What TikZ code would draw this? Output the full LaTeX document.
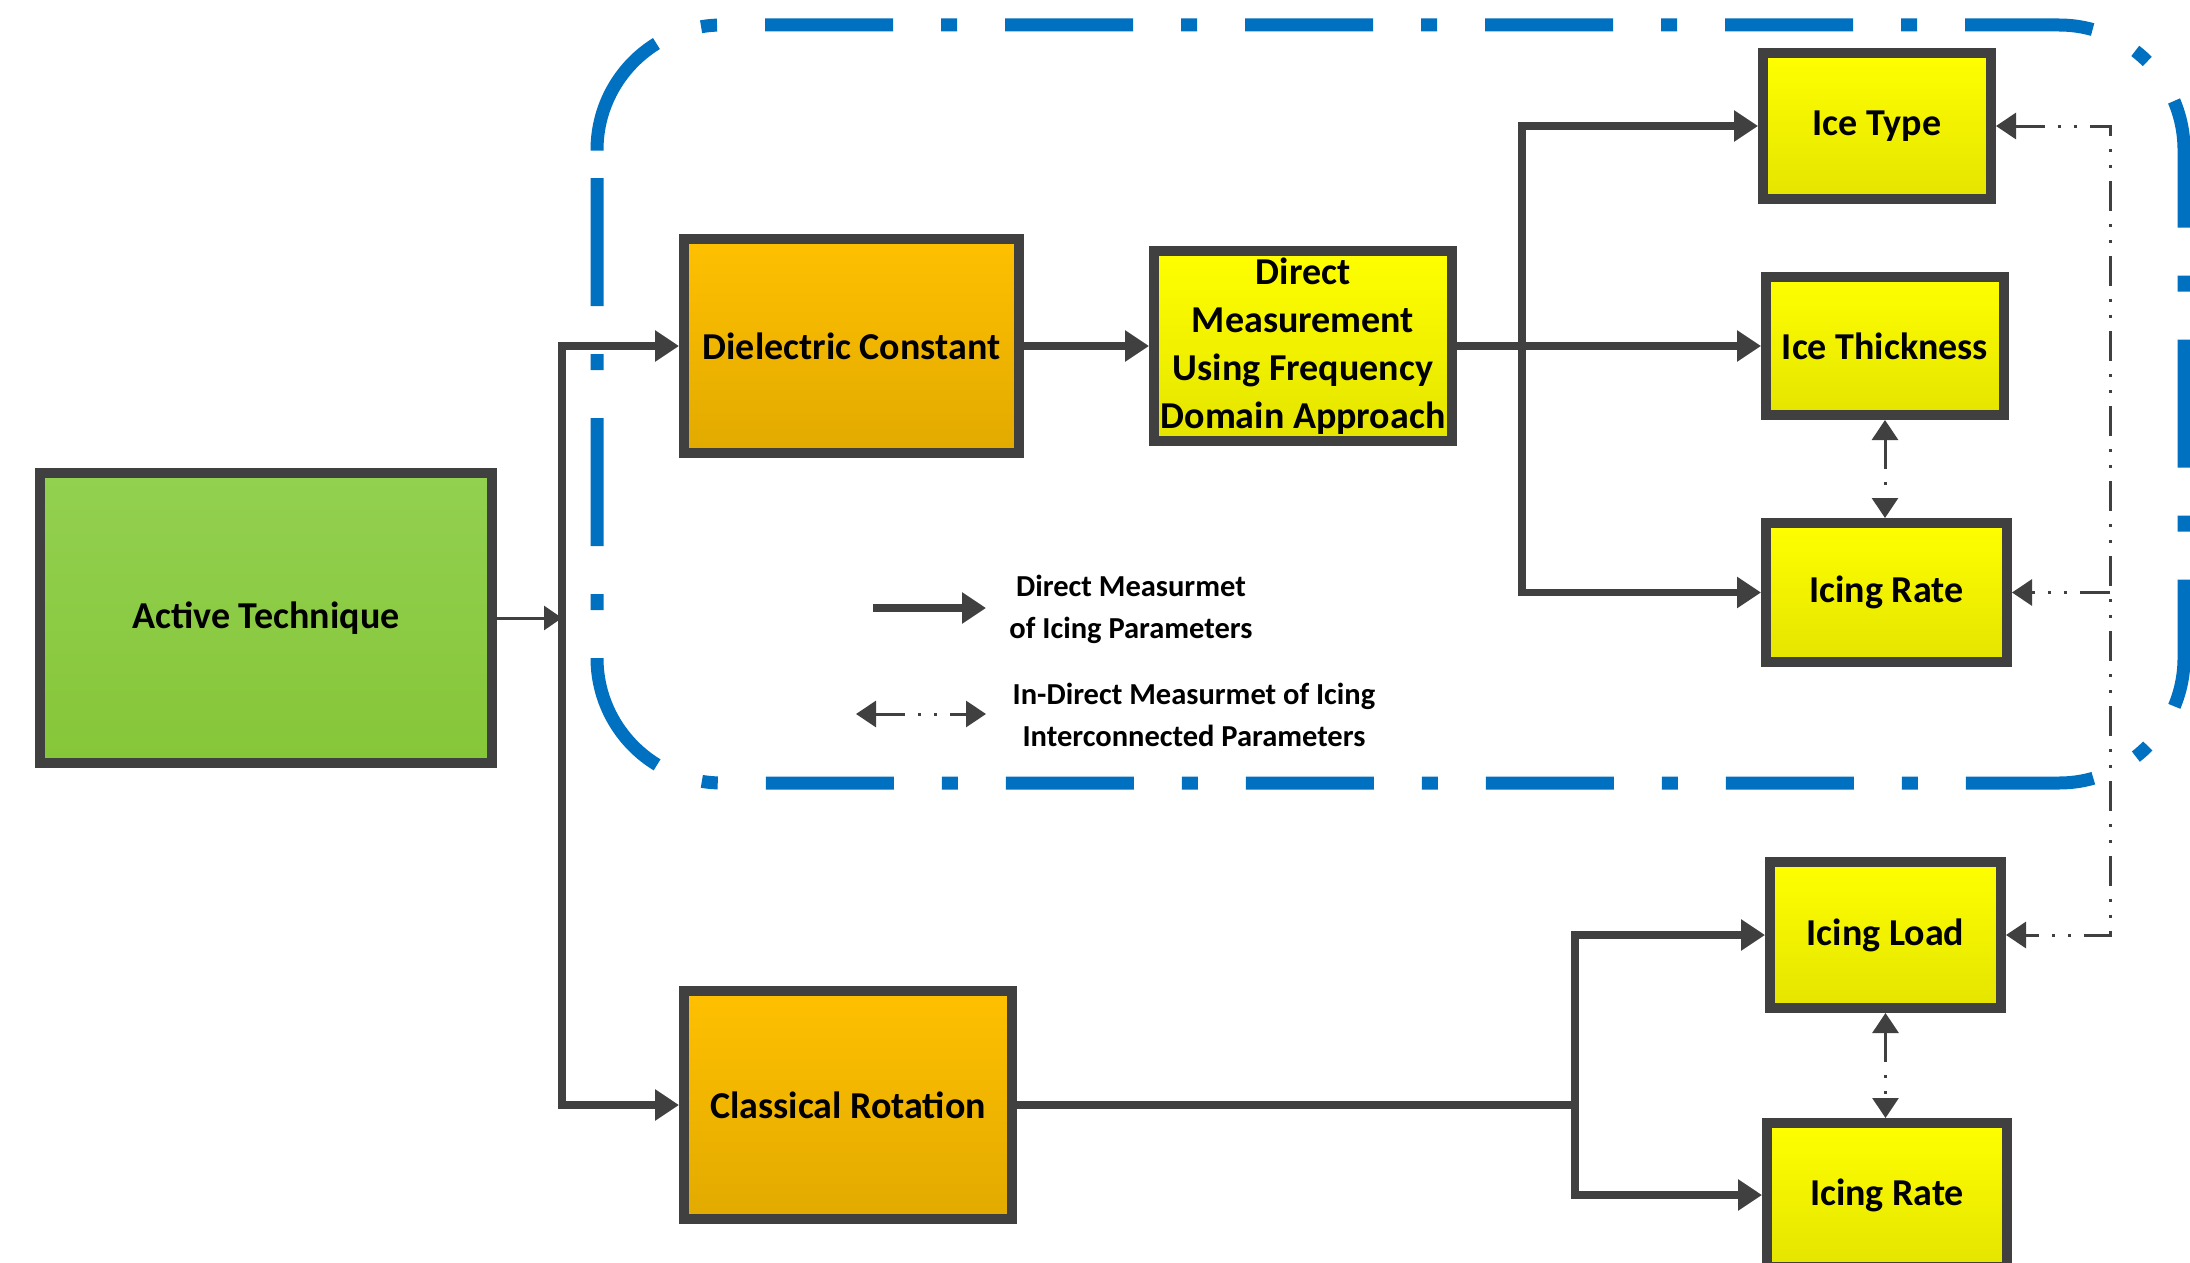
\documentclass[tikz,border=0pt]{standalone}
\usepackage{fontspec}
\setmainfont{Carlito}
\usetikzlibrary{arrows.meta,shadows}
\definecolor{bordc}{HTML}{404040}
\definecolor{framec}{HTML}{0070C0}
\definecolor{shadc}{HTML}{D0D0D0}
\definecolor{gtop}{HTML}{92D050}
\definecolor{gbot}{HTML}{86C638}
\definecolor{otop}{HTML}{FFC000}
\definecolor{obot}{HTML}{E2AA00}
\definecolor{ytop}{HTML}{FFFF00}
\definecolor{ybot}{HTML}{E4E400}
\newcommand\bxfont{\fontsize{38}{48}\selectfont\bfseries}
\newcommand\lgfont{\fontsize{30.5}{42}\selectfont\bfseries}
\begin{document}
\begin{tikzpicture}[x=1pt,y=-1pt,
  box/.style={draw=bordc, line width=10pt, inner sep=0pt, align=center, font=\bxfont, text=black,
    drop shadow={shadow xshift=5pt,shadow yshift=-5pt,fill=shadc,draw=none,opacity=1}},
  gbox/.style={box, top color=gtop, bottom color=gbot},
  obox/.style={box, top color=otop, bottom color=obot},
  ybox/.style={box, top color=ytop, bottom color=ybot},
  conn/.style={draw=bordc, line width=7.5pt, line join=miter},
  arr/.style={-{Triangle[length=24pt,width=30pt]}},
  arrboth/.style={{Triangle[length=24pt,width=30pt]}-{Triangle[length=24pt,width=30pt]}},
  thinconn/.style={draw=bordc, line width=3pt, -{Triangle[length=18pt,width=24pt]}},
  dd/.style={draw=bordc, line width=3pt, line join=miter, dash pattern=on 30pt off 13pt on 3pt off 13pt on 3pt off 13pt},
  ddtip/.style={-{Triangle[length=20pt,width=26pt]}},
  ddboth/.style={{Triangle[length=20pt,width=26pt]}-{Triangle[length=20pt,width=26pt]}},
  frame/.style={draw=framec, line width=13pt, rounded corners=125pt},
  legtext/.style={font=\lgfont, align=center, text=black, inner sep=0pt}
]
\useasboundingbox (0,0) rectangle (2190,1263);

% dash-dot frame (two runs starting from the same point on the top edge)
\draw[frame, dash pattern=on 128pt off 48pt on 16pt off 48pt]
  (765,25) -- (2184,25) -- (2184,783) -- (597,783) -- (597,178);
\draw[frame, dash pattern=on 16pt off 48pt on 128pt off 48pt, dash phase=192pt]
  (765,25) -- (597,25) -- (597,178);

% boxes
\node[gbox, minimum width=452pt, minimum height=290pt] (act) at (266,618) {Active Technique};
\node[obox, minimum width=335pt, minimum height=214pt] (diel) at (851.5,346) {Dielectric Constant};
\node[ybox, minimum width=298pt, minimum height=190pt] (dir) at (1303,346) {Direct\\Measurement\\Using Frequency\\Domain Approach};
\node[obox, minimum width=328pt, minimum height=228pt] (cls) at (848,1105) {Classical Rotation};
\node[ybox, minimum width=228pt, minimum height=146pt] (itype) at (1877,126) {Ice Type};
\node[ybox, minimum width=238pt, minimum height=138pt] (ithick) at (1885,346) {Ice Thickness};
\node[ybox, minimum width=241pt, minimum height=139pt] (irate1) at (1886.5,592.5) {Icing Rate};
\node[ybox, minimum width=231pt, minimum height=146pt] (iload) at (1885.5,935) {Icing Load};
\node[ybox, minimum width=240pt, minimum height=144pt] (irate2) at (1887,1195) {Icing Rate};

% junction coordinates
\coordinate (trunk) at (562,0);
\coordinate (br) at (1522,0);
\coordinate (br2) at (1575,0);
\coordinate (rv) at (2110,0);

% solid connectors
\draw[thinconn] (act.east) -- (trunk |- act.east);
\draw[conn,arrboth] (cls.west) -- (trunk |- cls.west) -- (trunk |- diel.west) -- (diel.west);
\draw[conn,arr] (diel.east) -- (dir.west);
\draw[conn,arr] (dir.east) -- (ithick.west);
\draw[conn,arrboth] (itype.west) -- (br |- itype.west) -- (br |- irate1.west) -- (irate1.west);
\draw[conn] (cls.east) -- (br2 |- cls.east);
\draw[conn,arrboth] (iload.west) -- (br2 |- iload.west) -- (br2 |- irate2.west) -- (irate2.west);

% indirect connectors
\draw[dd,ddboth] (itype.east) -- (rv |- itype.east) -- (rv |- iload.east) -- (iload.east);
\draw[dd,ddtip] (rv |- irate1.east) -- (irate1.east);
\draw[dd,ddboth] (ithick.south) -- (ithick.south |- irate1.north);
\draw[dd,ddboth] (iload.south) -- (iload.south |- irate2.north);

% legend
\coordinate (l1a) at (873,608);
\coordinate (l1b) at (986,608);
\draw[conn,arr] (l1a) -- (l1b);
\coordinate (l2a) at (856,714);
\coordinate (l2b) at (986,714);
\draw[dd,ddboth] (l2a) -- (l2b);
\node[legtext] (leg1) at (1131,609) {Direct Measurmet\\of Icing Parameters};
\node[legtext] (leg2) at (1194,715) {In-Direct Measurmet of Icing\\Interconnected Parameters};
\end{tikzpicture}
\end{document}
